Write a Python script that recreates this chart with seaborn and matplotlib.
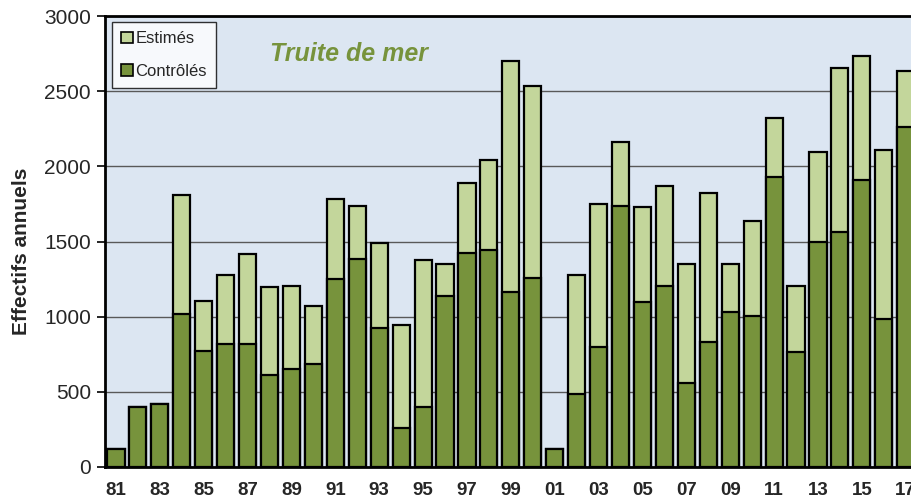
import matplotlib
matplotlib.use("Agg")
import matplotlib.pyplot as plt
import seaborn as sns
import numpy as np
from matplotlib.patches import Patch

years = ['81', '82', '83', '84', '85', '86', '87', '88', '89', '90',
         '91', '92', '93', '94', '95', '96', '97', '98', '99', '00',
         '01', '02', '03', '04', '05', '06', '07', '08', '09', '10',
         '11', '12', '13', '14', '15', '16', '17']
totals = [120, 400, 420, 1807, 1104, 1275, 1415, 1197, 1204, 1073,
          1785, 1736, 1488, 945, 1377, 1353, 1887, 2040, 2703, 2537,
          120, 1277, 1752, 2164, 1727, 1867, 1353, 1820, 1350, 1639,
          2319, 1204, 2093, 2656, 2734, 2111, 2636]
controles = [120, 400, 420, 1020, 772, 816, 816, 614, 652, 687,
             1251, 1384, 925, 259, 399, 1137, 1426, 1443, 1166, 1255,
             120, 488, 798, 1738, 1095, 1204, 557, 834, 1033, 1007,
             1931, 763, 1499, 1563, 1911, 984, 2264]
yticks = [0, 500, 1000, 1500, 2000, 2500, 3000]

LIGHT = '#C3D69B'
DARK = '#77933C'
BG = '#DCE6F2'

sns.set_style("white")
plt.rcParams['font.family'] = ['Liberation Sans', 'DejaVu Sans']

fig = plt.figure(figsize=(9.11, 5.03), dpi=100)
W, H = 911, 503
ax = fig.add_axes([105 / W, 36 / H, 811.7 / W, 451 / H])
ax.set_facecolor(BG)

sns.barplot(x=years, y=totals, color=LIGHT, saturation=1, edgecolor='black',
            linewidth=1.6, width=0.78, ax=ax, zorder=3)
sns.barplot(x=years, y=controles, color=DARK, saturation=1, edgecolor='black',
            linewidth=1.6, width=0.78, ax=ax, zorder=4)

ax.set_xlim(-0.5, len(years) - 0.5)
ax.set_ylim(0, 3000)
ax.set_yticks(yticks)
ax.set_yticklabels([str(v) for v in yticks], fontsize=15)
ax.yaxis.grid(True, color='#595959', linewidth=1.0)
ax.xaxis.grid(False)
ax.set_axisbelow(True)

ax.set_xticks(range(0, len(years), 2))
ax.set_xticklabels(years[::2], fontsize=13.5, fontweight='bold')
ax.set_xticks(np.arange(-0.5, len(years), 1), minor=True)
ax.tick_params(axis='x', which='major', length=0, pad=11)
ax.tick_params(axis='x', which='minor', length=6, width=1.2, color='black')
ax.tick_params(axis='y', which='major', length=6, width=1.2, color='black',
               left=True, pad=4)
ax.set_xlabel('')
ax.set_ylabel('')

for s in ['top', 'left', 'bottom', 'right']:
    ax.spines[s].set_visible(True)
    ax.spines[s].set_color('black')
    ax.spines[s].set_linewidth(2)

fig.text(22 / W, 1 - 251 / H, 'Effectifs annuels', rotation=90, fontsize=15,
         fontweight='bold', ha='center', va='center')

ax.text(349 / W, 1 - 54 / H, 'Truite de mer', transform=fig.transFigure,
        fontsize=18, fontweight='bold', fontstyle='italic', color=DARK,
        ha='center', va='center', zorder=6)

handles = [Patch(facecolor=LIGHT, edgecolor='black', linewidth=1.2, label='Estimés'),
           Patch(facecolor=DARK, edgecolor='black', linewidth=1.2, label='Contrôlés')]
leg = ax.legend(handles=handles, loc='upper left',
                bbox_to_anchor=(112 / W, 1 - 22 / H),
                bbox_transform=fig.transFigure, fontsize=12,
                handlelength=0.7, handleheight=0.7, handletextpad=0.15,
                labelspacing=1.05, borderpad=0.55, frameon=True, fancybox=False,
                borderaxespad=0)
leg.get_frame().set_edgecolor('black')
leg.get_frame().set_linewidth(1.0)
leg.get_frame().set_facecolor('white')
leg.set_zorder(7)

fig.savefig('out.png', dpi=100)
